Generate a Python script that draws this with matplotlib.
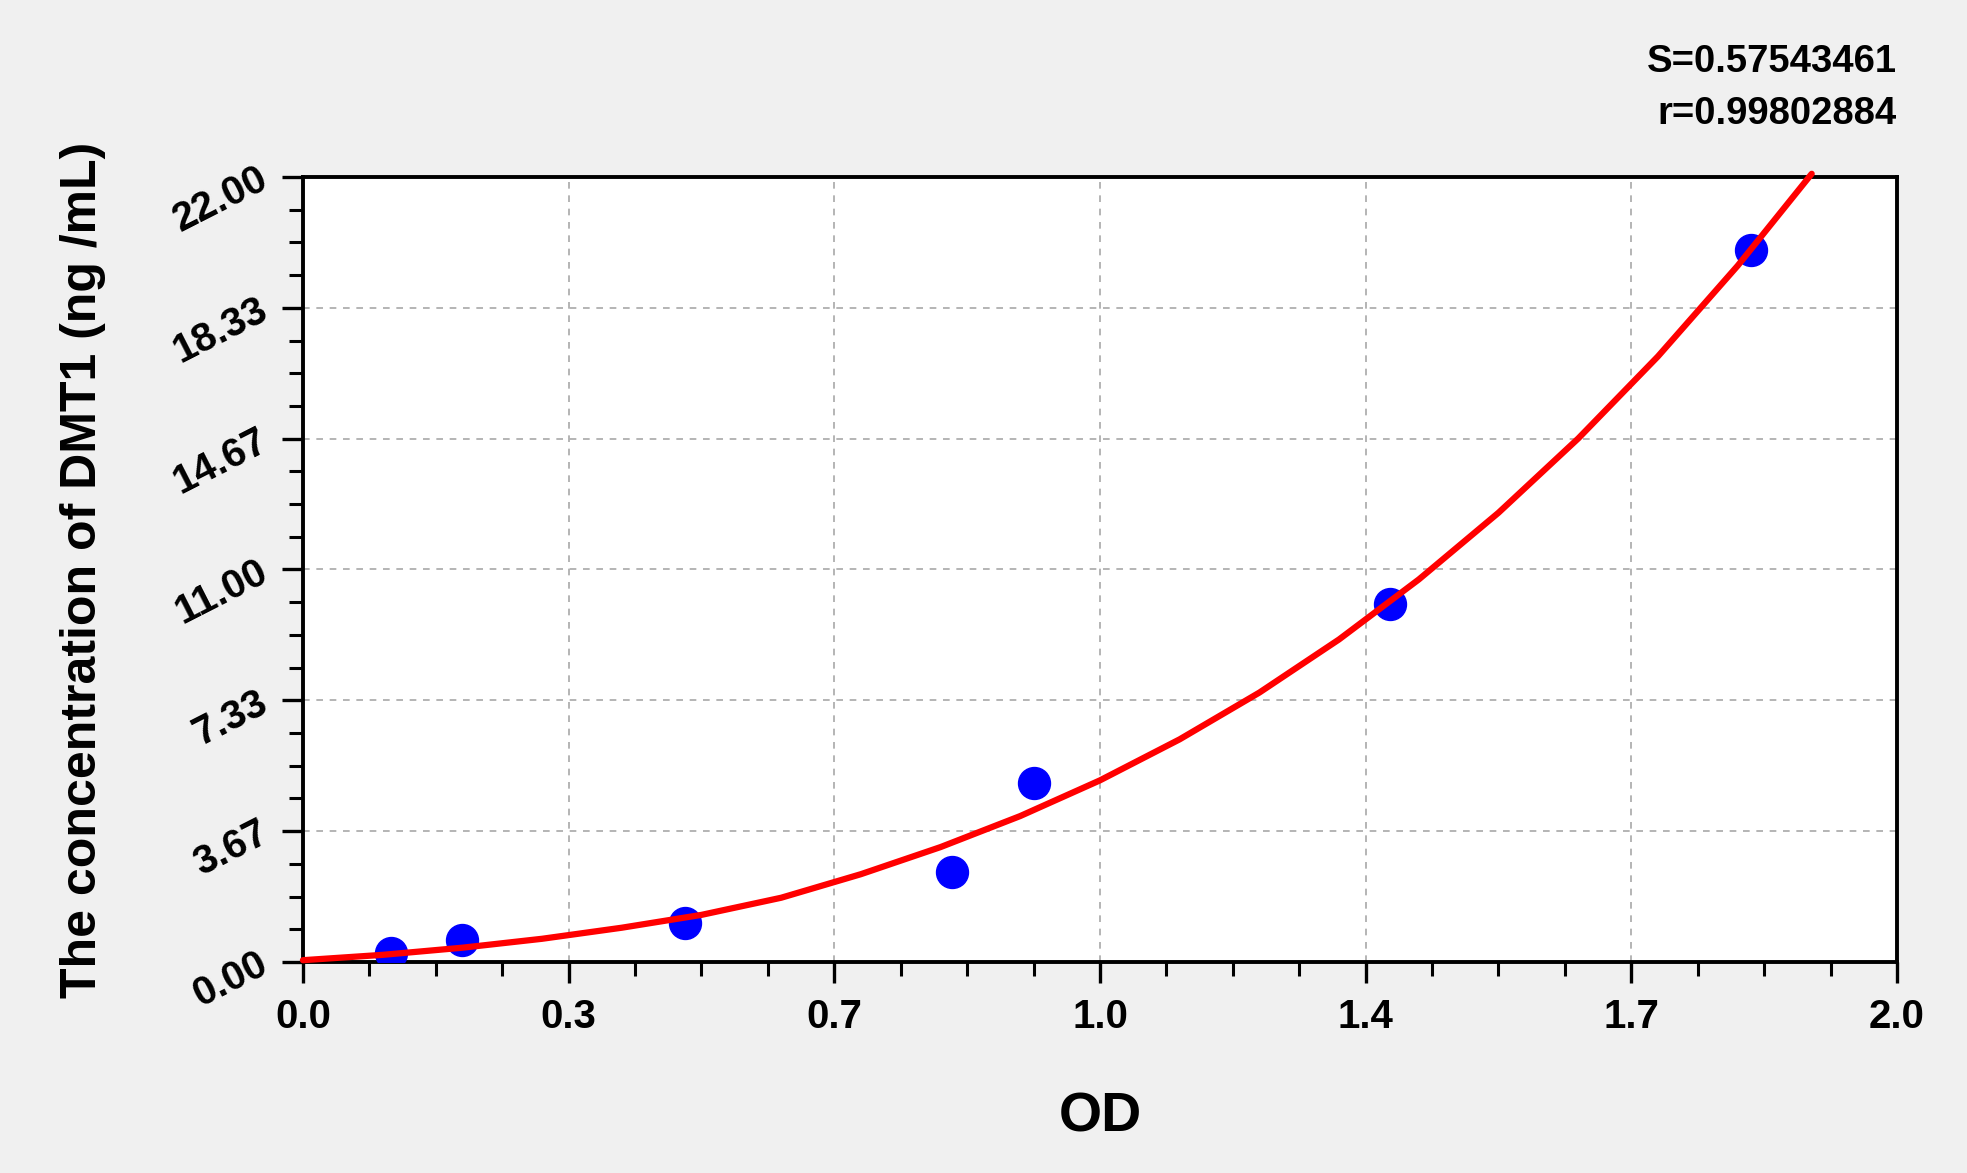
import numpy as np
import matplotlib
matplotlib.use("Agg")
import matplotlib.pyplot as plt
from matplotlib import font_manager
from matplotlib.ticker import FixedLocator, AutoMinorLocator

# standards
od_points = [0.110, 0.200, 0.479, 0.814, 0.917, 1.364, 1.817]
conc_points = [0.26, 0.62, 1.10, 2.51, 5.01, 10.03, 19.96]

# fitted curve
od_curve = [0.0, 0.1, 0.2, 0.3, 0.4, 0.5, 0.6, 0.7, 0.8, 0.9, 1.0,
            1.1, 1.2, 1.3, 1.4, 1.5, 1.6, 1.7, 1.8, 1.893]
conc_curve = [0.05, 0.20, 0.40, 0.65, 0.96, 1.32, 1.80, 2.46, 3.22, 4.09, 5.09,
              6.24, 7.55, 9.04, 10.72, 12.59, 14.67, 16.97, 19.51, 22.09]

x_ticks = [0.0, 2 / 6, 4 / 6, 1.0, 8 / 6, 10 / 6, 2.0]
x_labels = ["0.0", "0.3", "0.7", "1.0", "1.4", "1.7", "2.0"]
y_ticks = [0.0, 22 / 6, 44 / 6, 11.0, 88 / 6, 110 / 6, 22.0]
y_labels = ["0.00", "3.67", "7.33", "11.00", "14.67", "18.33", "22.00"]

stat_s = "S=0.57543461"
stat_r = "r=0.99802884"

plt.rcParams["font.family"] = ["Liberation Sans", "DejaVu Sans"]
plt.rcParams["font.weight"] = "bold"

# the fit statistics are set in a squeezed face
names = {f.name for f in font_manager.fontManager.ttflist}
narrow = "Liberation Sans Narrow" if "Liberation Sans Narrow" in names else "Liberation Sans"
stat_size = 32 if narrow != "Liberation Sans" else 27.5

fig = plt.figure(figsize=(19.67, 11.73), dpi=100, facecolor="#f0f0f0")
ax = fig.add_axes([0.154, 0.1799, 0.8104, 0.6692])
ax.set_facecolor("white")

ax.plot(od_points, conc_points, "o", color="#0000ff", markersize=23, zorder=3)
ax.plot(od_curve, conc_curve, color="#ff0000", linewidth=4.5, zorder=4,
        clip_on=False, solid_capstyle="round", solid_joinstyle="round")

ax.set_xlim(0, 2.0)
ax.set_ylim(0, 22.0)
ax.xaxis.set_major_locator(FixedLocator(x_ticks))
ax.yaxis.set_major_locator(FixedLocator(y_ticks))
ax.xaxis.set_minor_locator(AutoMinorLocator(4))
ax.yaxis.set_minor_locator(AutoMinorLocator(4))
ax.set_xticklabels(x_labels, fontsize=29, fontweight="bold")
ax.set_yticklabels(y_labels, fontsize=29, fontweight="bold", rotation=27,
                   rotation_mode="anchor", ha="right", va="center")

ax.tick_params(which="major", direction="out", length=15, width=2.4)
ax.tick_params(which="minor", direction="out", length=10, width=2.2)
ax.tick_params(axis="x", which="major", pad=11)
ax.tick_params(axis="y", which="major", pad=12)

ax.grid(True, which="major", color="#a8a8a8", linestyle=(0, (4, 4)), linewidth=1.2)
ax.set_axisbelow(True)
for sp in ax.spines.values():
    sp.set_linewidth(2.8)
    sp.set_color("black")

ax.set_xlabel("OD", fontsize=40, fontweight="bold", labelpad=40)
ax.set_ylabel("The concentration of DMT1 (ng /mL)", fontsize=36, fontweight="bold",
              labelpad=44)

fig.text(0.9644, 0.947, stat_s, ha="right", va="center", fontsize=stat_size,
         fontweight="bold", family=narrow)
fig.text(0.9644, 0.903, stat_r, ha="right", va="center", fontsize=stat_size,
         fontweight="bold", family=narrow)

fig.savefig("out.png", dpi=100, facecolor=fig.get_facecolor())
